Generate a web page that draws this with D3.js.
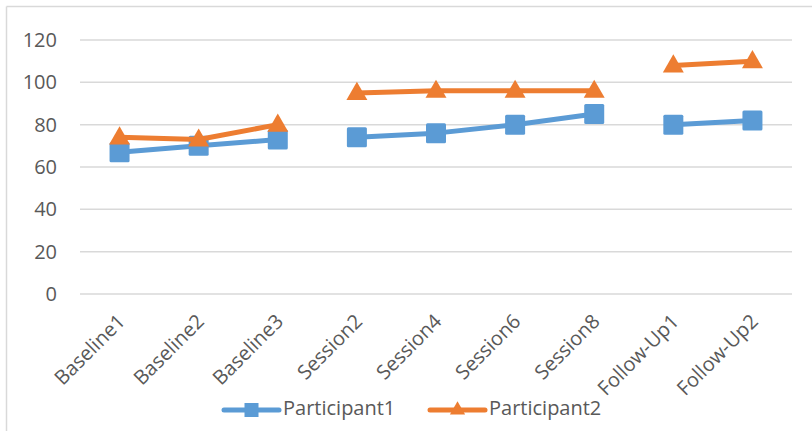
<!DOCTYPE html>
<html>
<head>
<meta charset="utf-8">
<script src="https://cdn.jsdelivr.net/npm/d3@7"></script>
<style>
  html, body { margin: 0; padding: 0; background: #fff; }
  svg { display: block; }
  text { font-family: "Open Sans", Calibri, Carlito, sans-serif; fill: #595959; }
</style>
</head>
<body>
<svg id="chart" width="812" height="431"></svg>
<script>
// Session labels along the x axis
const categories = ["Baseline1", "Baseline2", "Baseline3", "Session2", "Session4",
                    "Session6", "Session8", "Follow-Up1", "Follow-Up2"];
// Phases: lines are broken between phases
const phases = [0, 0, 0, 1, 1, 1, 1, 2, 2];
const participant1 = [67, 70, 73, 74, 76, 80, 85, 80, 82];
const participant2 = [74, 73, 80, 95, 96, 96, 96, 108, 110];
const yTicks = [0, 20, 40, 60, 80, 100, 120];
const seriesNames = ["Participant1", "Participant2"];
const seriesColors = ["#5B9BD5", "#ED7D31"];

const FONT = "'Open Sans', Calibri, Carlito, sans-serif";
const svg = d3.select("#chart");
const W = 812, H = 431;

// chart-area frame (top and left edges visible)
svg.append("line").attr("x1", 6.5).attr("x2", W).attr("y1", 6.5).attr("y2", 6.5)
  .attr("stroke", "#d9d9d9").attr("stroke-width", 1.5);
svg.append("line").attr("x1", 6.5).attr("x2", 6.5).attr("y1", 6.5).attr("y2", H)
  .attr("stroke", "#d9d9d9").attr("stroke-width", 1.5);

const plot = { left: 80, right: 792, top: 40, bottom: 294 };

const x = d3.scaleBand().domain(categories).range([plot.left, plot.right]);
const y = d3.scaleLinear().domain([0, 120]).range([plot.bottom, plot.top]);

// gridlines
svg.append("g").selectAll("line").data(yTicks).join("line")
  .attr("x1", plot.left).attr("x2", plot.right)
  .attr("y1", d => y(d)).attr("y2", d => y(d))
  .attr("stroke", "#d9d9d9").attr("stroke-width", 1.5);

// y axis labels
const yAxis = d3.axisLeft(y).tickValues(yTicks).tickSize(0).tickPadding(0);
const yg = svg.append("g").attr("transform", `translate(${plot.left - 23},0)`).call(yAxis);
yg.select(".domain").remove();
yg.selectAll("text").attr("font-size", 20).style("fill", "#595959")
  .style("font-family", FONT);

// x axis labels, rotated
const xAxis = d3.axisBottom(x).tickSize(0).tickPadding(0);
const xg = svg.append("g").attr("transform", `translate(0,${plot.bottom})`).call(xAxis);
xg.select(".domain").remove();
xg.selectAll("text")
  .attr("font-size", 20).style("fill", "#595959")
  .style("font-family", FONT)
  .attr("text-anchor", "end")
  .attr("dy", null).attr("y", 0)
  .attr("transform", "translate(3,25) rotate(-45)")
  .attr("dominant-baseline", "middle");

const cx = d => x(d) + x.bandwidth() / 2;

const series = [participant1, participant2];
const triangle = d3.symbol().type(d3.symbolTriangle).size(190);

series.forEach((vals, si) => {
  const pts = categories.map((c, i) => ({ c, v: vals[i], p: phases[i] }));
  const line = d3.line().x(d => cx(d.c)).y(d => y(d.v));
  const groups = d3.groups(pts, d => d.p);
  const g = svg.append("g");
  groups.forEach(([, arr]) => {
    g.append("path").attr("d", line(arr)).attr("fill", "none")
      .attr("stroke", seriesColors[si]).attr("stroke-width", 5)
      .attr("stroke-linejoin", "round").attr("stroke-linecap", "round");
  });
  if (si === 0) {
    g.selectAll("rect").data(pts).join("rect")
      .attr("x", d => cx(d.c) - 10).attr("y", d => y(d.v) - 10)
      .attr("width", 20).attr("height", 20).attr("rx", 1.5)
      .attr("fill", seriesColors[si]);
  } else {
    g.selectAll("path.m").data(pts).join("path").attr("class", "m")
      .attr("d", triangle)
      .attr("transform", d => `translate(${cx(d.c)},${y(d.v) + 1})`)
      .attr("fill", seriesColors[si]);
  }
});

// legend
const legendY = 410;
const legendItems = [{ x: 224 }, { x: 430 }];
legendItems.forEach((it, i) => {
  const lg = svg.append("g");
  lg.append("line").attr("x1", it.x).attr("x2", it.x + 55)
    .attr("y1", legendY).attr("y2", legendY)
    .attr("stroke", seriesColors[i]).attr("stroke-width", 5).attr("stroke-linecap", "round");
  if (i === 0) {
    lg.append("rect").attr("x", it.x + 27.5 - 7).attr("y", legendY - 7)
      .attr("width", 14).attr("height", 14).attr("fill", seriesColors[i]);
  } else {
    lg.append("path").attr("d", d3.symbol().type(d3.symbolTriangle).size(100))
      .attr("transform", `translate(${it.x + 27.5},${legendY})`).attr("fill", seriesColors[i]);
  }
  lg.append("text").attr("x", it.x + 59).attr("y", legendY)
    .attr("dominant-baseline", "middle").attr("font-size", 20)
    .style("font-family", FONT)
    .text(seriesNames[i]);
});
</script>
</body>
</html>
